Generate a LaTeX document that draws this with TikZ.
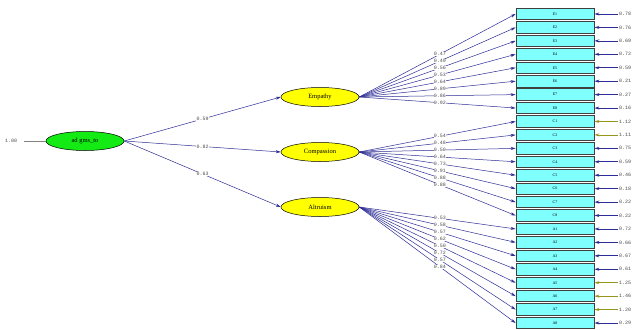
\documentclass[tikz,border=0pt]{standalone}
\usepackage{fontspec}
\setmainfont{Liberation Serif}
\setmonofont{Liberation Mono}
\usetikzlibrary{arrows.meta,shapes.geometric}
\definecolor{pathblue}{RGB}{45,45,150}
\definecolor{boxcyan}{RGB}{128,255,255}
\definecolor{latyellow}{RGB}{255,255,0}
\definecolor{latgreen}{RGB}{20,235,20}
\definecolor{errolive}{RGB}{150,150,30}
\begin{document}
\begin{tikzpicture}[x=1pt,y=-1pt,
  indic/.style={draw=black!75, fill=boxcyan, minimum width=78pt, minimum height=11.5pt, inner sep=0pt, line width=0.8pt, font=\fontsize{4}{4}\selectfont},
  latent/.style={ellipse, draw=black, line width=0.5pt, minimum width=78pt, minimum height=19pt, inner sep=0pt, font=\fontsize{6.5}{6.5}\selectfont},
  loadpath/.style={draw=pathblue, line width=0.5pt, -{Stealth[length=5pt,width=3pt]}},
  errpath/.style={draw=pathblue, line width=0.7pt, -{Stealth[length=5pt,width=3pt]}},
  errpatho/.style={draw=errolive, line width=0.7pt, -{Stealth[length=5pt,width=3pt]}},
  num/.style={font=\ttfamily\fontsize{5}{5}\selectfont, text=black!70, inner sep=0.4pt, fill=white},
  errnum/.style={font=\ttfamily\fontsize{5}{5}\selectfont, text=black!70, inner sep=0pt, anchor=west},
]
\useasboundingbox (0,0) rectangle (636,329);
\fill[white] (0,0) rectangle (636,329);

% latent variables
\node[latent, fill=latgreen] (g) at (85,141) {ad gms\_to};
\node[latent, fill=latyellow] (emp) at (320,97) {Empathy};
\node[latent, fill=latyellow] (com) at (320,152) {Compassion};
\node[latent, fill=latyellow] (alt) at (320,207) {Altruism};

% variance of the second-order factor
\node[errnum] (v) at (5,141) {1.00};
\coordinate (vs) at (24,141);
\draw[black!50, line width=0.4pt] (vs) -- (g);

% structural paths
\foreach \t/\v in {emp/0.59, com/0.82, alt/0.63}{
  \draw[loadpath] (g.east) -- node[num, pos=0.5]{\v} (\t.west);
}

% indicators
\foreach \lab [count=\i] in {E1,E2,E3,E4,E5,E6,E7,E8,C1,C2,C3,C4,C5,C6,C7,C8,A1,A2,A3,A4,A5,A6,A7,A8}{
  \node[indic] (b\i) at (555,{14+(\i-1)*13.435}) {\lab};
  \coordinate (e\i) at (618,{14+(\i-1)*13.435});
}

% loadings
\foreach \i/\v in {1/0.47,2/0.49,3/0.56,4/0.53,5/0.64,6/0.89,7/0.86,8/0.92}{
  \draw[loadpath] (emp.east) -- node[num, pos=0.516]{\v} (b\i.west);
}
\foreach \i/\v in {9/0.54,10/0.48,11/0.50,12/0.64,13/0.73,14/0.91,15/0.88,16/0.88}{
  \draw[loadpath] (com.east) -- node[num, pos=0.516]{\v} (b\i.west);
}
\foreach \i/\v in {17/0.53,18/0.58,19/0.57,20/0.62,21/0.50,22/0.72,23/0.57,24/0.84}{
  \draw[loadpath] (alt.east) -- node[num, pos=0.516]{\v} (b\i.west);
}

% error variances
\foreach \i/\v in {1/0.78,2/0.76,3/0.69,4/0.72,5/0.59,6/0.21,7/0.27,8/0.16,11/0.75,12/0.59,13/0.46,14/0.18,15/0.22,16/0.22,17/0.72,18/0.66,19/0.67,20/0.61,24/0.29}{
  \draw[errpath] (e\i) -- (b\i.east);
  \node[errnum] at (e\i) {\,\v};
}
\foreach \i/\v in {9/1.12,10/1.11,21/1.25,22/1.46,23/1.20}{
  \draw[errpatho] (e\i) -- (b\i.east);
  \node[errnum] at (e\i) {\,\v};
}
\end{tikzpicture}
\end{document}
